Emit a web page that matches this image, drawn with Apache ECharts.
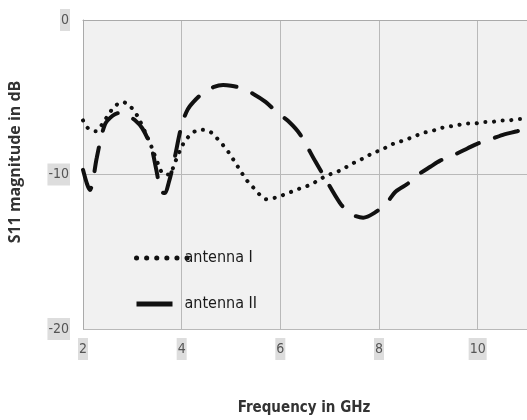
<!DOCTYPE html>
<html>
<head>
<meta charset="utf-8">
<script src="https://cdn.jsdelivr.net/npm/echarts@6/dist/echarts.min.js"></script>
<style>
  html, body { margin: 0; padding: 0; background: #ffffff; }
  #chart { width: 527px; height: 420px; }
</style>
</head>
<body>
<div id="chart"></div>
<script>
// Return loss of the two antennas (S11, dB) against frequency (GHz)
const seriesNames = ['antenna I', 'antenna II'];

const freqI = [2.0, 2.1, 2.26, 2.4, 2.52, 2.64, 2.8, 2.96, 3.1, 3.28, 3.4, 3.52, 3.64, 3.74, 3.88,
  4.0, 4.1, 4.22, 4.38, 4.56, 4.7, 4.84, 4.96, 5.08, 5.2, 5.3, 5.44, 5.58, 5.72, 5.9,
  6.08, 6.24, 6.4, 6.58, 6.76, 6.92, 7.08, 7.24, 7.4, 7.58, 7.72, 7.88, 8.06, 8.22, 8.4,
  8.58, 8.74, 8.9, 9.06, 9.24, 9.42, 9.6, 9.76, 9.94, 10.1, 10.28, 10.46, 10.64, 10.8, 11.0];
const s11I = [-6.5, -7.0, -7.2, -6.7, -6.1, -5.6, -5.3, -5.6, -6.2, -7.4, -8.3, -9.3, -10.0, -10.0, -9.1,
  -8.2, -7.7, -7.3, -7.1, -7.2, -7.6, -8.1, -8.6, -9.2, -9.8, -10.3, -10.8, -11.3, -11.6, -11.5,
  -11.3, -11.1, -10.9, -10.7, -10.4, -10.1, -9.9, -9.7, -9.4, -9.1, -8.9, -8.6, -8.4, -8.1, -7.9,
  -7.7, -7.5, -7.3, -7.2, -7.0, -6.9, -6.8, -6.7, -6.7, -6.6, -6.6, -6.5, -6.5, -6.4, -6.4];

const freqII = [2.0, 2.08, 2.14, 2.2, 2.28, 2.44, 2.6, 2.76, 2.9, 3.06, 3.2, 3.38, 3.48, 3.58, 3.66,
  3.74, 3.84, 4.0, 4.12, 4.24, 4.44, 4.64, 4.84, 5.0, 5.2, 5.46, 5.7, 5.94, 6.18, 6.4,
  6.7, 6.9, 7.2, 7.4, 7.68, 7.9, 8.14, 8.34, 8.58, 8.8, 9.04, 9.24, 9.54, 9.8, 10.0,
  10.28, 10.54, 10.8, 11.0];
const s11II = [-9.7, -10.6, -11.0, -10.4, -8.9, -6.8, -6.2, -6.0, -6.2, -6.5, -7.0, -8.2, -9.6, -11.1, -11.2,
  -10.5, -9.2, -6.8, -5.8, -5.3, -4.7, -4.35, -4.2, -4.25, -4.4, -4.8, -5.3, -6.0, -6.6, -7.4,
  -9.1, -10.2, -11.8, -12.5, -12.8, -12.5, -11.9, -11.1, -10.6, -10.0, -9.5, -9.1, -8.7, -8.3, -8.0,
  -7.7, -7.4, -7.2, -7.0];

const xTicks = [2, 4, 6, 8, 10];
const yTicks = [0, -10, -20];

const pairs = (xs, ys) => xs.map((x, i) => [x, ys[i]]);

const narrowFont = '"Liberation Sans Narrow", "DejaVu Sans Condensed", "Liberation Sans", sans-serif';
const tickLabel = {
  color: '#555555',
  fontFamily: narrowFont,
  fontSize: 14,
  backgroundColor: '#dddddd',
  padding: [4, 1, 4, 1]
};
const hiddenSymbol = { opacity: 0, color: 'rgba(0,0,0,0)', borderWidth: 0 };

const chart = echarts.init(document.getElementById('chart'), null, { renderer: 'canvas' });

chart.setOption({
  backgroundColor: '#ffffff',
  animation: false,
  grid: {
    left: 83, top: 20, width: 450, height: 309,
    show: true, backgroundColor: '#f1f1f1', borderWidth: 0
  },
  xAxis: {
    type: 'value', min: 2, max: 11, interval: 2,
    axisLine: { show: true, lineStyle: { color: '#aaaaaa', width: 1 } },
    axisTick: { show: false },
    axisLabel: Object.assign({}, tickLabel, {
      margin: 9, showMaxLabel: false,
      formatter: v => (xTicks.includes(v) ? String(v) : '')
    }),
    splitLine: { show: true, lineStyle: { color: '#b9b9b9', width: 1 } }
  },
  yAxis: {
    type: 'value', min: -20, max: 0, interval: 10,
    axisLine: { show: true, lineStyle: { color: '#aaaaaa', width: 1 } },
    axisTick: { show: false },
    axisLabel: Object.assign({}, tickLabel, {
      margin: 13,
      formatter: v => (yTicks.includes(v) ? String(v) : '')
    }),
    splitLine: { show: true, lineStyle: { color: '#b9b9b9', width: 1 } }
  },
  legend: {
    orient: 'vertical',
    left: 129, top: 245,
    itemWidth: 52, itemHeight: 14, itemGap: 30,
    itemStyle: hiddenSymbol,
    textStyle: { color: '#1a1a1a', fontFamily: narrowFont, fontSize: 16, padding: [0, 0, 0, -9] },
    data: [
      { name: seriesNames[0], itemStyle: hiddenSymbol, lineStyle: { type: [0.1, 10], width: 5, cap: 'round' } },
      { name: seriesNames[1], itemStyle: hiddenSymbol, lineStyle: { type: [36, 40], width: 5, cap: 'butt' } }
    ]
  },
  series: [
    {
      name: seriesNames[0], type: 'line', data: pairs(freqI, s11I),
      symbol: 'none', smooth: 0.3,
      lineStyle: { color: '#111111', width: 4, type: [0.1, 8.6], cap: 'round' },
      itemStyle: { color: '#111111' }
    },
    {
      name: seriesNames[1], type: 'line', data: pairs(freqII, s11II),
      symbol: 'none', smooth: 0.3,
      lineStyle: { color: '#111111', width: 4, type: [24, 17], cap: 'round' },
      itemStyle: { color: '#111111' }
    }
  ],
  graphic: [
    {
      type: 'text', x: 15, y: 162, rotation: Math.PI / 2,
      style: {
        text: 'S11 magnitude in dB', fill: '#333333',
        font: 'bold 16px "Open Sans", "Noto Sans", sans-serif',
        align: 'center', verticalAlign: 'middle'
      }
    },
    {
      type: 'text', x: 304, y: 408,
      style: {
        text: 'Frequency in GHz', fill: '#333333',
        font: 'bold 15px ' + narrowFont,
        align: 'center', verticalAlign: 'middle'
      }
    }
  ]
});
</script>
</body>
</html>
